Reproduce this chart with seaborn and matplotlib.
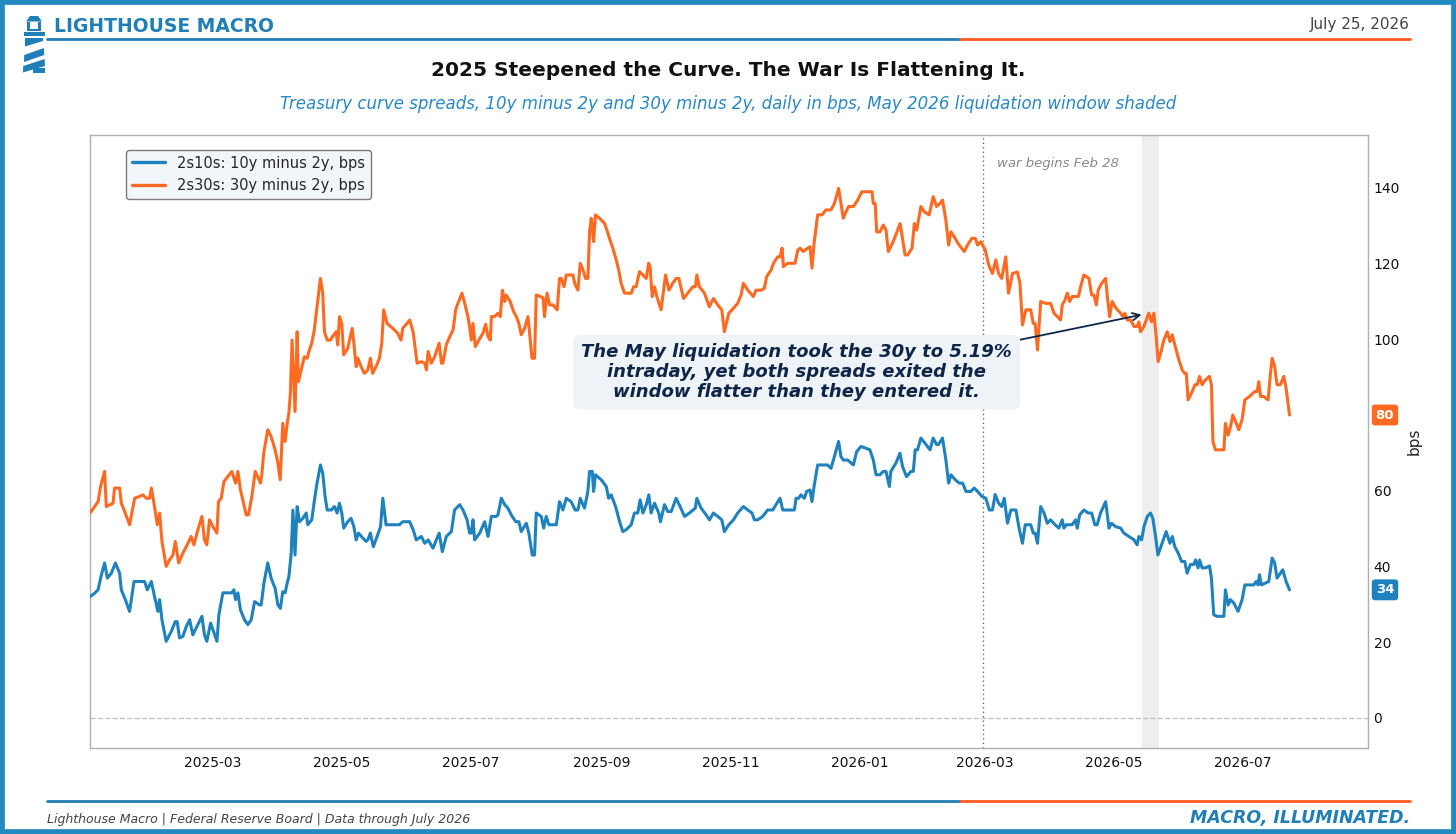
import numpy as np
import pandas as pd
import matplotlib
matplotlib.use("Agg")
import matplotlib.pyplot as plt
import matplotlib.dates as mdates
from matplotlib.patches import Polygon, Rectangle
from matplotlib.lines import Line2D
import seaborn as sns

# ---------------- data (day offsets from 2025-01-02, spreads in bps) ----------------
START = "2025-01-02"

days_2s30s = [
    0.0, 2.2, 3.8, 5.0, 6.9, 7.7, 10.9, 11.6, 14.0, 14.8,
    16.4, 18.7, 21.1, 23.5, 25.0, 26.6, 28.2, 29.0, 30.5, 31.8,
    32.9, 34.0, 36.0, 37.6, 39.2, 40.3, 41.9, 43.9, 46.3, 47.8,
    49.1, 51.0, 52.9, 54.1, 55.2, 56.5, 58.1, 60.0, 60.7, 62.0,
    63.3, 65.1, 67.0, 68.8, 69.9, 71.1, 72.2, 73.8, 74.9, 76.5,
    78.1, 80.6, 81.2, 82.1, 84.0, 85.6, 87.5, 88.8, 89.9, 91.1,
    92.2, 93.2, 94.0, 94.7, 95.5, 96.3, 96.9, 97.9, 98.5, 99.8,
    101.3, 102.6, 103.7, 104.8, 106.0, 107.3, 108.9, 110.0, 110.8, 112.1,
    113.6, 115.2, 116.3, 117.1, 117.9, 119.0, 119.9, 121.8, 123.9, 124.7,
    125.8, 126.6, 128.1, 129.7, 131.3, 132.5, 133.6, 135.2, 136.8, 137.9,
    138.8, 140.4, 143.1, 145.4, 147.0, 147.8, 149.8, 151.1, 152.7, 154.6,
    156.6, 158.2, 159.0, 159.8, 161.3, 162.9, 165.0, 166.1, 166.8, 168.4,
    170.0, 171.6, 172.8, 173.9, 175.8, 177.1, 178.6, 179.4, 180.2, 181.0,
    182.1, 183.8, 185.7, 187.0, 188.1, 189.2, 189.7, 191.2, 192.8, 193.9,
    194.9, 196.0, 196.7, 198.6, 200.2, 201.5, 202.7, 203.8, 205.4, 207.0,
    208.1, 208.9, 210.1, 210.9, 212.5, 214.1, 214.8, 216.0, 217.2, 218.8,
    220.8, 221.9, 222.7, 224.0, 225.1, 227.4, 228.2, 229.3, 230.6, 231.7,
    233.0, 234.2, 235.3, 236.1, 236.9, 238.0, 238.9, 240.8, 243.2, 244.8,
    245.5, 247.1, 248.7, 249.9, 251.0, 252.6, 254.2, 255.8, 256.9, 258.1,
    259.7, 261.3, 262.9, 264.0, 264.7, 265.7, 266.8, 267.9, 269.9, 272.0,
    273.6, 275.4, 277.0, 278.3, 280.5, 282.5, 284.9, 286.1, 286.8, 288.0,
    290.4, 292.7, 294.6, 296.7, 298.6, 299.8, 301.9, 304.1, 306.1, 307.7,
    308.8, 310.9, 313.5, 314.8, 317.2, 318.7, 319.8, 321.9, 323.0, 325.0,
    326.1, 327.1, 327.7, 329.7, 332.1, 333.2, 334.5, 335.6, 337.1, 339.2,
    340.3, 341.2, 342.3, 343.9, 346.0, 347.8, 350.2, 351.8, 353.8, 354.9,
    356.0, 357.3, 358.5, 360.8, 362.8, 364.8, 368.3, 369.6, 370.2, 371.1,
    371.8, 373.3, 374.9, 376.2, 377.3, 379.6, 381.7, 382.9, 384.0, 385.2,
    386.4, 388.5, 389.6, 390.7, 392.7, 394.3, 396.6, 398.5, 400.1, 401.7,
    402.9, 404.5, 405.8, 406.9, 408.4, 410.8, 413.2, 414.7, 416.8, 418.4,
    419.5, 421.0, 423.1, 424.7, 426.5, 428.1, 429.4, 430.9, 432.8, 434.1,
    436.0, 438.3, 439.5, 440.7, 442.3, 444.6, 445.8, 446.7, 447.8, 449.3,
    451.6, 454.0, 455.6, 457.2, 458.7, 459.5, 460.8, 461.9, 463.0, 464.2,
    465.8, 467.1, 468.2, 469.7, 472.1, 473.4, 474.5, 475.6, 476.5, 478.1,
    480.0, 480.8, 481.9, 483.1, 485.0, 487.1, 488.2, 489.1, 490.2, 491.8,
    493.4, 494.9, 495.7, 496.5, 498.1, 500.4, 501.7, 502.8, 503.9, 504.8,
    506.4, 507.5, 509.1, 510.4, 511.5, 512.7, 514.6, 516.2, 517.4, 518.1,
    519.0, 520.9, 522.2, 523.3, 524.4, 525.6, 527.2, 529.1, 530.0, 530.7,
    531.9, 534.3, 535.9, 536.6, 537.9, 539.0, 540.1, 541.4, 542.9, 544.5,
    545.8, 548.0, 550.5, 551.6, 552.4, 553.2, 554.7, 556.8, 557.9, 558.7,
    559.9, 561.0, 562.6, 564.2, 565.3, 566.9,
]
vals_2s30s = [
    54.1, 55.8, 57.1, 61.1, 65.1, 55.8, 56.7, 60.7, 60.7, 56.7,
    54.5, 51.0, 58.0, 58.5, 58.9, 58.0, 58.0, 60.7, 55.8, 51.0,
    54.1, 46.6, 40.0, 41.7, 43.0, 46.6, 40.9, 43.5, 46.1, 47.9,
    45.7, 49.7, 53.2, 47.0, 45.7, 52.3, 50.5, 48.8, 57.1, 58.0,
    62.4, 63.7, 65.1, 62.0, 65.1, 60.2, 57.6, 53.6, 53.6, 58.5,
    65.1, 62.0, 64.3, 69.9, 76.1, 74.3, 70.8, 67.3, 62.9, 77.8,
    73.0, 77.8, 80.5, 85.8, 99.8, 89.3, 80.9, 102.0, 88.8, 91.9,
    95.4, 95.0, 97.2, 99.0, 102.5, 108.6, 116.1, 112.2, 102.0, 99.8,
    99.8, 101.2, 102.0, 98.5, 106.0, 104.2, 95.9, 97.6, 102.9, 99.0,
    92.8, 95.0, 92.8, 91.0, 91.9, 95.0, 91.0, 92.8, 95.0, 99.0,
    107.8, 104.2, 102.9, 101.6, 99.8, 102.9, 104.2, 105.1, 102.0, 93.7,
    94.1, 93.7, 91.9, 96.8, 93.7, 95.4, 99.0, 93.7, 93.7, 98.6,
    100.7, 102.5, 107.8, 109.5, 112.2, 109.5, 106.0, 103.4, 99.8, 104.2,
    98.1, 99.8, 101.6, 104.0, 100.7, 99.8, 106.0, 106.0, 106.9, 106.0,
    113.0, 110.0, 111.7, 110.0, 107.3, 106.0, 104.2, 101.2, 102.9, 106.0,
    99.8, 95.0, 95.0, 111.7, 111.4, 111.0, 106.0, 112.2, 109.1, 109.1,
    107.8, 116.1, 116.1, 113.9, 117.0, 117.0, 117.0, 114.4, 113.0, 120.1,
    118.3, 116.1, 116.1, 128.4, 132.0, 125.8, 132.9, 132.0, 130.6, 128.0,
    126.7, 124.1, 121.0, 118.3, 114.8, 112.2, 112.2, 112.2, 113.9, 113.9,
    117.9, 117.0, 116.1, 120.1, 119.2, 111.3, 113.9, 111.3, 107.8, 117.0,
    113.0, 114.8, 116.1, 116.1, 110.8, 112.2, 113.9, 113.9, 117.0, 113.9,
    112.2, 108.6, 110.8, 109.1, 107.8, 102.0, 106.9, 108.2, 109.5, 111.7,
    114.8, 113.0, 111.3, 113.0, 113.0, 113.5, 116.6, 118.3, 120.1, 121.8,
    121.8, 124.1, 119.2, 120.1, 120.1, 120.1, 123.6, 124.1, 123.2, 124.1,
    124.5, 118.8, 125.8, 132.9, 132.9, 134.2, 134.2, 135.9, 139.9, 135.9,
    132.0, 133.7, 135.1, 135.1, 136.8, 139.0, 139.0, 139.0, 135.9, 135.9,
    128.4, 128.4, 130.2, 128.9, 123.2, 125.8, 128.9, 130.6, 126.7, 122.3,
    122.3, 124.1, 130.6, 128.9, 135.1, 133.7, 132.9, 137.7, 135.1, 135.9,
    136.8, 131.5, 124.9, 128.4, 127.1, 124.9, 123.2, 124.9, 126.7, 126.7,
    124.9, 125.8, 123.6, 119.7, 117.4, 121.0, 117.4, 116.1, 121.8, 112.2,
    117.4, 117.8, 114.8, 103.8, 107.8, 107.8, 104.2, 104.2, 97.2, 110.0,
    109.5, 109.5, 106.9, 106.0, 105.1, 109.1, 110.4, 112.2, 110.0, 111.3,
    111.3, 111.3, 113.9, 117.0, 116.1, 111.7, 111.7, 109.1, 113.0, 114.8,
    116.1, 111.3, 106.0, 110.0, 108.2, 106.9, 106.0, 106.9, 105.1, 105.1,
    103.4, 103.4, 104.6, 102.0, 103.4, 106.9, 104.6, 106.9, 100.7, 94.1,
    97.2, 99.8, 102.0, 99.4, 101.2, 98.5, 94.6, 91.9, 91.0, 91.0,
    84.0, 86.2, 88.0, 88.0, 90.2, 88.0, 89.3, 90.2, 88.0, 73.0,
    70.8, 70.8, 70.8, 77.8, 74.7, 76.9, 80.0, 78.3, 76.1, 78.8,
    84.0, 84.9, 86.2, 86.2, 88.8, 84.9, 84.9, 84.0, 91.0, 95.0,
    92.8, 88.0, 88.0, 90.2, 87.1, 80.0,
]

days_2s10s = [
    0.0, 2.2, 3.8, 5.4, 6.9, 8.2, 10.1, 12.0, 14.0, 14.8,
    16.7, 18.7, 20.8, 22.7, 25.8, 27.1, 29.0, 30.5, 32.1, 32.9,
    34.0, 36.0, 38.4, 40.3, 41.2, 42.3, 43.9, 45.5, 47.1, 48.6,
    51.0, 52.9, 54.1, 55.2, 57.0, 58.4, 60.0, 60.9, 62.8, 65.2,
    67.0, 68.0, 68.8, 69.9, 71.1, 73.0, 74.6, 76.2, 77.8, 80.1,
    80.9, 82.2, 84.0, 85.6, 87.5, 88.8, 90.0, 91.1, 92.2, 93.2,
    94.0, 95.1, 95.9, 96.9, 97.9, 99.0, 100.6, 102.2, 102.9, 104.8,
    106.1, 107.3, 108.9, 110.0, 111.1, 112.1, 114.0, 115.5, 116.8, 117.9,
    119.0, 119.9, 121.8, 123.4, 124.7, 125.8, 126.9, 128.9, 130.5, 131.3,
    132.5, 133.9, 135.7, 137.3, 138.4, 139.9, 142.3, 146.2, 147.8, 150.2,
    151.1, 152.7, 154.2, 156.6, 158.2, 159.8, 162.1, 165.0, 166.5, 168.4,
    170.8, 172.3, 174.7, 176.3, 178.2, 179.4, 180.2, 181.0, 181.8, 184.2,
    186.5, 188.1, 189.7, 192.0, 192.8, 194.4, 196.0, 197.5, 199.1, 201.2,
    202.7, 203.8, 206.2, 207.4, 209.0, 210.1, 210.9, 213.3, 214.4, 215.6,
    216.9, 220.4, 221.9, 223.5, 225.1, 227.4, 229.3, 230.6, 231.7, 233.7,
    235.3, 236.1, 237.4, 238.0, 238.9, 241.6, 244.0, 245.1, 246.3, 248.4,
    250.3, 251.8, 253.4, 255.8, 257.3, 258.9, 260.0, 261.3, 262.9, 264.1,
    265.2, 266.8, 268.8, 269.6, 271.5, 273.1, 274.7, 277.0, 278.9, 281.0,
    283.3, 286.1, 286.8, 288.8, 291.2, 292.8, 294.6, 296.7, 298.6, 299.8,
    301.9, 304.1, 306.1, 308.8, 310.9, 312.9, 314.0, 315.6, 317.9, 320.3,
    322.7, 324.2, 326.1, 327.4, 329.7, 332.9, 333.7, 334.9, 336.0, 337.6,
    338.7, 340.3, 341.2, 342.3, 343.9, 346.3, 348.6, 350.2, 351.8, 353.8,
    354.9, 356.0, 358.1, 360.8, 362.3, 364.4, 366.7, 368.6, 370.2, 371.5,
    373.3, 374.9, 376.2, 377.8, 378.5, 380.9, 382.8, 384.0, 385.9, 388.0,
    389.1, 390.0, 391.1, 392.7, 395.1, 397.0, 398.5, 400.1, 401.0, 402.9,
    404.5, 405.8, 406.9, 408.9, 410.8, 412.4, 414.0, 416.3, 417.9, 419.5,
    421.5, 423.4, 425.0, 426.5, 427.8, 429.4, 430.9, 432.1, 433.6, 435.2,
    437.6, 439.1, 440.7, 442.0, 444.6, 445.8, 446.7, 447.8, 449.3, 450.9,
    452.4, 454.0, 456.1, 457.9, 459.5, 460.3, 461.4, 463.0, 464.2, 465.8,
    466.6, 467.7, 469.7, 471.8, 473.4, 474.9, 476.0, 477.6, 480.0, 481.6,
    482.8, 484.7, 487.1, 488.6, 491.0, 493.4, 494.9, 495.7, 497.0, 498.1,
    499.7, 501.2, 502.3, 503.6, 504.7, 506.7, 508.6, 510.4, 511.5, 512.7,
    514.3, 515.9, 517.4, 518.5, 520.1, 521.7, 522.5, 523.7, 524.4, 525.6,
    527.2, 529.1, 530.0, 531.1, 532.7, 535.9, 536.6, 537.9, 539.0, 540.6,
    542.6, 544.5, 545.8, 548.0, 550.0, 551.1, 552.1, 552.7, 553.6, 555.5,
    557.1, 558.7, 559.9, 561.0, 562.6, 563.7, 565.3, 566.9,
]
vals_2s10s = [
    32.0, 32.9, 33.8, 37.8, 40.9, 36.9, 38.2, 40.9, 38.2, 33.8,
    31.2, 28.1, 36.0, 36.0, 36.0, 33.8, 36.0, 32.0, 28.1, 31.2,
    25.9, 20.2, 22.8, 25.4, 25.4, 21.1, 21.5, 24.1, 25.9, 21.9,
    24.6, 26.8, 21.9, 20.2, 25.0, 22.8, 20.2, 27.2, 33.0, 33.0,
    33.0, 33.8, 31.2, 33.0, 28.5, 25.9, 24.6, 25.9, 30.7, 29.8,
    29.8, 35.6, 40.9, 36.9, 34.2, 29.8, 28.9, 33.3, 33.0, 35.6,
    37.3, 43.5, 54.9, 43.0, 55.8, 51.8, 52.7, 54.1, 51.0, 52.3,
    57.6, 62.0, 66.8, 64.6, 58.5, 54.9, 54.9, 55.8, 54.1, 56.7,
    54.1, 50.1, 51.8, 52.7, 50.5, 47.0, 48.8, 47.5, 46.6, 47.0,
    48.8, 45.2, 47.9, 50.5, 58.0, 51.0, 51.0, 51.0, 51.8, 51.8,
    51.8, 49.7, 47.0, 47.9, 46.1, 47.0, 44.8, 48.8, 43.9, 47.9,
    49.2, 54.9, 56.3, 54.9, 52.3, 48.8, 48.8, 52.3, 47.0, 48.8,
    51.8, 47.9, 53.2, 53.2, 53.6, 58.0, 56.3, 55.4, 53.6, 51.8,
    51.8, 49.2, 51.4, 48.8, 43.0, 43.0, 54.1, 53.2, 50.1, 53.2,
    51.0, 51.0, 57.1, 54.9, 58.0, 57.1, 54.9, 54.9, 58.0, 55.4,
    59.8, 65.1, 65.1, 59.8, 64.2, 62.9, 61.1, 58.0, 58.9, 55.8,
    51.8, 49.2, 49.7, 51.0, 54.1, 54.1, 57.6, 54.1, 56.3, 58.9,
    54.1, 56.7, 54.1, 51.8, 56.3, 54.5, 54.5, 58.0, 55.8, 53.2,
    54.1, 55.4, 58.0, 55.4, 53.6, 52.3, 54.1, 53.2, 52.3, 49.2,
    51.0, 52.3, 54.1, 55.8, 54.9, 54.1, 52.3, 52.3, 53.2, 54.9,
    54.9, 56.3, 58.0, 54.9, 54.9, 54.9, 58.0, 58.0, 58.9, 58.0,
    59.8, 60.2, 57.1, 61.5, 66.8, 66.8, 66.8, 65.9, 69.0, 73.0,
    69.0, 68.1, 68.1, 66.8, 70.3, 71.7, 71.2, 70.8, 68.1, 64.2,
    64.2, 65.1, 65.1, 61.1, 65.1, 67.3, 69.9, 66.4, 63.7, 65.1,
    65.1, 70.8, 70.8, 73.9, 72.2, 70.8, 73.9, 72.2, 72.2, 73.9,
    68.1, 62.0, 64.2, 62.9, 62.0, 62.0, 59.8, 59.8, 60.7, 59.8,
    58.5, 58.0, 54.9, 54.9, 59.0, 56.7, 55.8, 58.0, 51.4, 54.9,
    54.9, 50.1, 46.1, 51.0, 51.0, 48.8, 48.8, 46.1, 55.8, 54.1,
    51.4, 52.3, 51.0, 50.1, 52.3, 50.1, 51.0, 51.0, 51.0, 52.3,
    50.1, 53.6, 54.9, 54.1, 54.1, 51.0, 51.0, 54.1, 57.1, 50.1,
    51.4, 50.5, 50.1, 48.8, 47.9, 47.0, 45.7, 47.9, 47.0, 50.5,
    53.2, 54.1, 52.7, 47.9, 43.0, 46.1, 49.2, 46.1, 47.9, 45.2,
    43.5, 41.3, 41.3, 38.2, 40.5, 40.5, 41.7, 39.6, 41.7, 39.6,
    39.6, 40.1, 36.9, 27.2, 26.8, 26.8, 33.8, 29.8, 31.2, 30.3,
    28.1, 31.2, 35.1, 35.1, 35.1, 36.0, 35.1, 37.8, 35.1, 35.6,
    36.0, 42.2, 40.9, 36.9, 38.2, 39.1, 36.0, 33.8,
]

series_labels = ["2s10s: 10y minus 2y, bps", "2s30s: 30y minus 2y, bps"]
war_date = "2026-02-28"
window = ("2026-05-14", "2026-05-22")
arrow_target = ("2026-05-14", 106.5)
y_ticks = [0, 20, 40, 60, 80, 100, 120, 140]

# ---------------- style ----------------
sns.set_theme(style="white")
plt.rcParams["font.family"] = ["DejaVu Sans"]

BLUE = "#1f82bc"
ORANGE = "#ff6a22"
HEAD_BLUE = "#1f7fb6"
BORDER = "#2389c1"
NAVY = "#0f2547"
W, H = 1456, 834


def fx(x):
    return x / W


def fy(y):
    return 1 - y / H


start = pd.Timestamp(START)
df10 = pd.DataFrame({"date": start + pd.to_timedelta(days_2s10s, unit="D"),
                     "value": vals_2s10s, "series": series_labels[0]})
df30 = pd.DataFrame({"date": start + pd.to_timedelta(days_2s30s, unit="D"),
                     "value": vals_2s30s, "series": series_labels[1]})
df = pd.concat([df10, df30], ignore_index=True)

fig = plt.figure(figsize=(W / 100, H / 100), dpi=100)
fig.patch.set_facecolor("white")
ax = fig.add_axes([fx(90), fy(748), (1368 - 90) / W, (748 - 135) / H])

ax.axvspan(pd.Timestamp(window[0]), pd.Timestamp(window[1]), color="#eeeeee", zorder=0, lw=0)
ax.axhline(0, color="#c4c4c4", ls="--", lw=1.0, zorder=1)
ax.axvline(pd.Timestamp(war_date), color="#666666", ls=(0, (1, 2.2)), lw=1.0, zorder=1)

sns.lineplot(data=df, x="date", y="value", hue="series",
             palette={series_labels[0]: BLUE, series_labels[1]: ORANGE},
             estimator=None, linewidth=2.2, ax=ax, zorder=3)

ax.set_xlim(pd.Timestamp("2025-01-02"), pd.Timestamp("2026-08-29"))
ax.set_ylim(-8, 154)
ax.set_yticks(y_ticks)
# the last-value tags sit on top of the tick labels they share a level with
tag_levels = {round(vals_2s30s[-1]), round(vals_2s10s[-1])}
ax.set_yticklabels(["" if t in tag_levels else str(t) for t in y_ticks])
ax.yaxis.tick_right()
ax.yaxis.set_label_position("right")
ax.set_ylabel("bps", fontsize=11, labelpad=5, color="#222222")
ax.set_xlabel("")
ax.xaxis.set_major_locator(mdates.MonthLocator(bymonth=[1, 3, 5, 7, 9, 11]))
ax.xaxis.set_major_formatter(mdates.DateFormatter("%Y-%m"))
ax.tick_params(axis="both", length=0, labelsize=10, colors="#111111")
ax.tick_params(axis="x", pad=6)
ax.tick_params(axis="y", pad=4)
for sp in ax.spines.values():
    sp.set_visible(True)
    sp.set_color("#b0b0b0")
    sp.set_linewidth(1.0)

leg = ax.legend(loc="upper left", bbox_to_anchor=(0.028, 0.976), borderaxespad=0,
                fontsize=10.5, frameon=True, facecolor="#f3f6f9", edgecolor="#7a7a7a",
                framealpha=1, fancybox=True, handlelength=2.3, title=None)
leg.get_frame().set_linewidth(1.0)
for line in leg.get_lines():
    line.set_linewidth(2.4)

# war label
ax.annotate("war begins Feb 28", xy=(pd.Timestamp(war_date), 0.954),
            xycoords=("data", "axes fraction"), xytext=(10, 0), textcoords="offset points",
            ha="left", va="center", fontsize=9.5, style="italic", color="#888888")

# main annotation with arrow
ax.annotate("The May liquidation took the 30y to 5.19%\nintraday, yet both spreads exited the\nwindow flatter than they entered it.",
            xy=(pd.Timestamp(arrow_target[0]), arrow_target[1]), xycoords="data",
            xytext=(0.553, 0.613), textcoords="axes fraction",
            ha="center", va="center", fontsize=13, fontweight="bold", style="italic",
            color=NAVY, linespacing=1.15, zorder=6,
            bbox=dict(boxstyle="round,pad=0.45,rounding_size=0.4", fc="#eef3f8", ec="none"),
            arrowprops=dict(arrowstyle="->", color=NAVY, lw=1.3, relpos=(0.98, 1.0),
                            shrinkA=0, shrinkB=0))

# last-value tags
for val, col in [(vals_2s30s[-1], ORANGE), (vals_2s10s[-1], BLUE)]:
    ax.annotate(f"{val:.0f}", xy=(1.0133, val), xycoords=("axes fraction", "data"),
                ha="center", va="center", fontsize=9.5, fontweight="bold", color="white",
                annotation_clip=False, zorder=7,
                bbox=dict(boxstyle="round,pad=0.3,rounding_size=0.25", fc=col, ec="none"))

# ---------------- header ----------------
fig.text(fx(54), fy(27), "LIGHTHOUSE MACRO", fontsize=13.5, fontweight="bold",
         color=HEAD_BLUE, ha="left", va="center")
fig.text(fx(1410), fy(25), "July 25, 2026", fontsize=11, color="#444444",
         ha="right", va="center")
fig.add_artist(Line2D([fx(47), fx(960)], [fy(38.5), fy(38.5)], color=HEAD_BLUE, lw=2.0))
fig.add_artist(Line2D([fx(960), fx(1410)], [fy(38.5), fy(38.5)], color="#ff5a1f", lw=2.0))

fig.text(0.5, fy(71), "2025 Steepened the Curve. The War Is Flattening It.",
         fontsize=14.5, fontweight="bold", color="#111111", ha="center", va="center")
fig.text(0.5, fy(104), "Treasury curve spreads, 10y minus 2y and 30y minus 2y, daily in bps, May 2026 liquidation window shaded",
         fontsize=12, style="italic", color="#2a88c4", ha="center", va="center")

# lighthouse logo
logo = [
    [(26, 21.5), (30, 16), (38, 16), (42, 21.5)],
    [(27, 22), (41, 22), (41, 31), (27, 31)],
    [(23.5, 31.5), (44.5, 31.5), (44.5, 36), (23.5, 36)],
    [(25, 38), (43, 38), (43, 41), (25, 46.5)],
    [(24.2, 55), (44, 48), (44.2, 55), (24, 62)],
    [(23.2, 66), (44.6, 59), (45, 66), (23, 72.5)],
    [(33, 68), (45, 68), (45, 72.5), (33, 72.5)],
]
for poly in logo:
    fig.add_artist(Polygon([(fx(a), fy(b)) for a, b in poly], closed=True,
                           transform=fig.transFigure, fc=HEAD_BLUE, ec="none"))
fig.add_artist(Rectangle((fx(30), fy(29)), fx(8), 7 / H, transform=fig.transFigure,
                         fc="white", ec="none"))

# ---------------- footer ----------------
fig.add_artist(Line2D([fx(47), fx(960)], [fy(800.5), fy(800.5)], color=HEAD_BLUE, lw=2.0))
fig.add_artist(Line2D([fx(960), fx(1410)], [fy(800.5), fy(800.5)], color="#ff5a1f", lw=2.0))
fig.text(fx(47), fy(819), "Lighthouse Macro | Federal Reserve Board | Data through July 2026",
         fontsize=9, style="italic", color="#444444", ha="left", va="center")
fig.text(fx(1410), fy(818), "MACRO, ILLUMINATED.", fontsize=12.5, fontweight="bold",
         style="italic", color=HEAD_BLUE, ha="right", va="center")

# outer frame
fig.add_artist(Rectangle((0, 0), 1, 1, transform=fig.transFigure, fill=False,
                         ec=BORDER, lw=7))

fig.savefig("out.png", dpi=100)
